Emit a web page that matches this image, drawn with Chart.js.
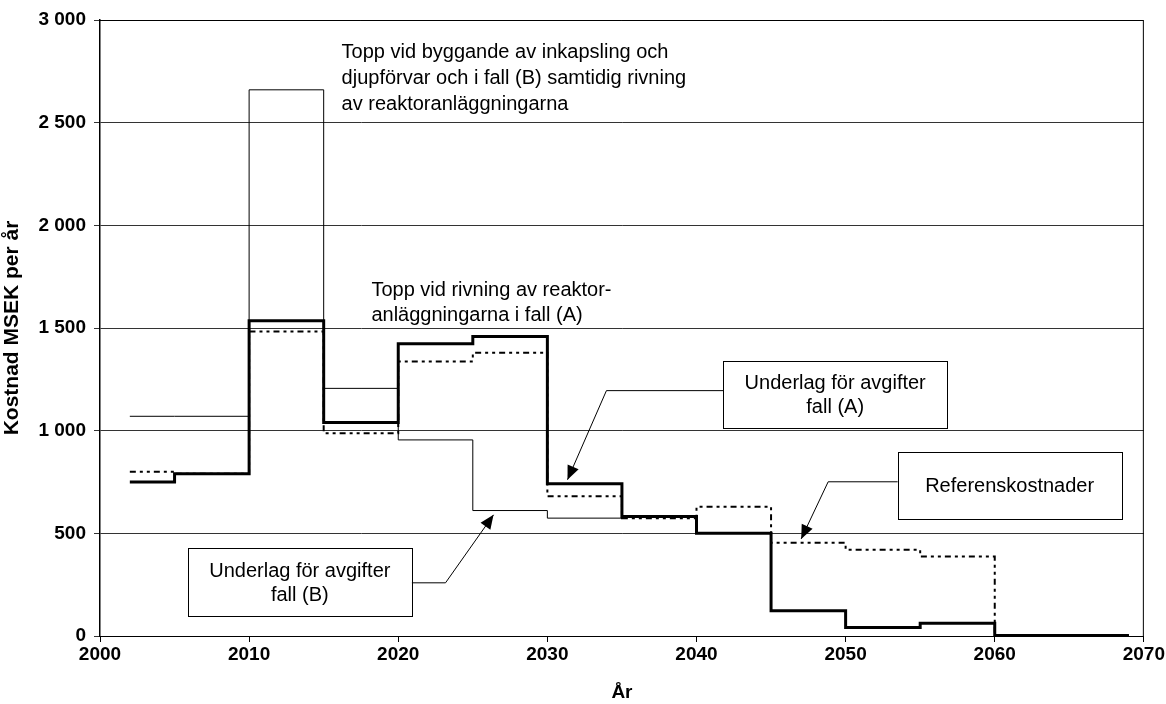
<!DOCTYPE html>
<html>
<head>
<meta charset="utf-8">
<script src="https://cdn.jsdelivr.net/npm/chart.js@4/dist/chart.umd.min.js"></script>
<style>
  html, body { margin: 0; padding: 0; background: #ffffff; }
  #wrap { width: 1166px; height: 704px; }
</style>
</head>
<body>
<div id="wrap"><canvas id="c" width="1166" height="704"></canvas></div>
<script>
// ---- Data ----
const stepYears = [2002, 2005, 2010, 2015, 2020, 2025, 2030, 2035, 2040, 2045, 2050, 2055, 2060, 2069];
const fallA     = [750, 790, 1535, 1040, 1423, 1459, 741, 582, 501, 123, 42, 62, 3, 3];
const fallB     = [1070, 1070, 2660, 1206, 955, 611, 574, 582, 501, 123, 42, 62, 3, 3];
const refYears  = [2002, 2005, 2010, 2015, 2020, 2025, 2030, 2035, 2040, 2045, 2050, 2055, 2060];
const referens  = [800, 790, 1483, 987, 1337, 1379, 680, 574, 629, 454, 420, 387, 0];

const xTicks = [2000, 2010, 2020, 2030, 2040, 2050, 2060, 2070];
const yTicks = [0, 500, 1000, 1500, 2000, 2500, 3000];
const xTitle = 'År';
const yTitle = 'Kostnad MSEK per år';

const toPts = (xs, ys) => xs.map((x, i) => ({ x: x, y: ys[i] }));
const fmtThousands = v => String(v).replace(/\B(?=(\d{3})+(?!\d))/g, ' ');

const FONT = "'Liberation Sans', Arial, sans-serif";

// Annotations (positions in data units: year, MSEK)
const texts = [
  { lines: ['Topp vid byggande av inkapsling och', 'djupförvar och i fall (B) samtidig rivning', 'av reaktoranläggningarna'], x: 2016.2, y: 2813, lh: 25.7, align: 'left' },
  { lines: ['Topp vid rivning av reaktor-', 'anläggningarna i fall (A)'], x: 2018.2, y: 1654, lh: 24.5, align: 'left' }
];
const boxes = [
  { lines: ['Underlag för avgifter', 'fall (A)'], x0: 2041.8, x1: 2056.8, yTop: 1341, yBot: 1015, arrow: [[2041.8, 1195], [2033.96, 1195], [2031.35, 761]] },
  { lines: ['Referenskostnader'], x0: 2053.5, x1: 2068.5, yTop: 898, yBot: 571, arrow: [[2053.5, 751], [2048.83, 751], [2047.02, 473]] },
  { lines: ['Underlag för avgifter', 'fall (B)'], x0: 2005.9, x1: 2020.9, yTop: 429, yBot: 98, arrow: [[2020.9, 259], [2023.17, 259], [2026.39, 590]] }
];

const annotPlugin = {
  id: 'annot',
  afterDatasetsDraw(chart) {
    const ctx = chart.ctx, xs = chart.scales.x, ys = chart.scales.y;
    const ca = chart.chartArea;
    ctx.save();
    // plot border (top/right)
    ctx.strokeStyle = '#000';
    ctx.lineWidth = 1;
    ctx.beginPath();
    ctx.moveTo(ca.left, ca.top + 0.5);
    ctx.lineTo(ca.right - 0.5, ca.top + 0.5);
    ctx.lineTo(ca.right - 0.5, ca.bottom);
    ctx.stroke();

    ctx.fillStyle = '#000';
    ctx.font = '20px ' + FONT;
    ctx.textBaseline = 'alphabetic';
    texts.forEach(t => {
      ctx.textAlign = t.align;
      const px = xs.getPixelForValue(t.x);
      const py = ys.getPixelForValue(t.y);
      t.lines.forEach((l, i) => ctx.fillText(l, px, py + i * t.lh));
    });

    boxes.forEach(b => {
      const x0 = xs.getPixelForValue(b.x0), x1 = xs.getPixelForValue(b.x1);
      const y0 = ys.getPixelForValue(b.yTop), y1 = ys.getPixelForValue(b.yBot);
      // arrow
      const pts = b.arrow.map(p => [xs.getPixelForValue(p[0]), ys.getPixelForValue(p[1])]);
      ctx.strokeStyle = '#000';
      ctx.lineWidth = 1;
      ctx.beginPath();
      ctx.moveTo(pts[0][0], pts[0][1]);
      for (let i = 1; i < pts.length; i++) ctx.lineTo(pts[i][0], pts[i][1]);
      ctx.stroke();
      const a = pts[pts.length - 2], tip = pts[pts.length - 1];
      const ang = Math.atan2(tip[1] - a[1], tip[0] - a[0]);
      const L = 14, W = 6;
      ctx.beginPath();
      ctx.moveTo(tip[0], tip[1]);
      ctx.lineTo(tip[0] - L * Math.cos(ang) + W * Math.sin(ang), tip[1] - L * Math.sin(ang) - W * Math.cos(ang));
      ctx.lineTo(tip[0] - L * Math.cos(ang) - W * Math.sin(ang), tip[1] - L * Math.sin(ang) + W * Math.cos(ang));
      ctx.closePath();
      ctx.fillStyle = '#000';
      ctx.fill();
      // box
      ctx.fillStyle = '#fff';
      ctx.fillRect(x0, y0, x1 - x0, y1 - y0);
      ctx.strokeStyle = '#000';
      ctx.lineWidth = 1;
      ctx.strokeRect(Math.round(x0) + 0.5, Math.round(y0) + 0.5, Math.round(x1 - x0), Math.round(y1 - y0));
      ctx.fillStyle = '#000';
      ctx.textAlign = 'center';
      const cx = (x0 + x1) / 2;
      const n = b.lines.length, lh = 24;
      const mid = (y0 + y1) / 2;
      b.lines.forEach((l, i) => {
        ctx.fillText(l, cx, mid + 7 + (i - (n - 1) / 2) * lh);
      });
    });
    ctx.restore();
  }
};

const bgPlugin = {
  id: 'bg',
  beforeDraw(chart) {
    const ctx = chart.ctx;
    ctx.save();
    ctx.fillStyle = '#fff';
    ctx.fillRect(0, 0, chart.width, chart.height);
    ctx.restore();
  }
};

new Chart(document.getElementById('c'), {
  type: 'line',
  data: {
    datasets: [
      { label: 'Underlag för avgifter fall (A)', data: toPts(stepYears, fallA), stepped: 'before',
        borderColor: '#000', borderWidth: 3, pointRadius: 0, fill: false, order: 0 },
      { label: 'Referenskostnader', data: toPts(refYears, referens), stepped: 'before',
        borderColor: '#000', borderWidth: 2, borderDash: [6, 4, 3, 4, 3, 4], pointRadius: 0, fill: false, order: 1 },
      { label: 'Underlag för avgifter fall (B)', data: toPts(stepYears, fallB), stepped: 'before',
        borderColor: '#000', borderWidth: 1, pointRadius: 0, fill: false, order: 2 }
    ]
  },
  options: {
    responsive: false,
    animation: false,
    layout: { padding: { left: 0, right: 20, top: 20, bottom: 0 } },
    plugins: { legend: { display: false }, tooltip: { enabled: false } },
    scales: {
      x: {
        type: 'linear', min: 2000, max: 2070,
        afterBuildTicks: s => { s.ticks = xTicks.map(v => ({ value: v })); },
        afterFit: s => { s.height = 68; },
        grid: { drawOnChartArea: false, drawTicks: true, tickLength: 6, color: '#000' },
        border: { display: true, color: '#000', width: 1 },
        ticks: { color: '#000', font: { family: FONT, size: 19, weight: 'bold' }, padding: 1, maxRotation: 0, callback: v => String(v) },
        title: { display: true, text: xTitle, color: '#000', font: { family: FONT, size: 19, weight: 'bold' }, padding: { top: 4, bottom: 0 } }
      },
      y: {
        min: 0, max: 3000,
        afterBuildTicks: s => { s.ticks = yTicks.map(v => ({ value: v })); },
        afterFit: s => { s.width = 100; },
        grid: { drawOnChartArea: true, drawTicks: true, tickLength: 6, color: '#333', lineWidth: 1 },
        border: { display: true, color: '#000', width: 1.5 },
        ticks: { color: '#000', font: { family: FONT, size: 19, weight: 'bold' }, padding: 8, callback: v => fmtThousands(v) },
        title: { display: true, text: yTitle, color: '#000', font: { family: FONT, size: 21, weight: 'bold' }, padding: { top: 0, bottom: 0 } }
      }
    }
  },
  plugins: [bgPlugin, annotPlugin]
});
</script>
</body>
</html>
